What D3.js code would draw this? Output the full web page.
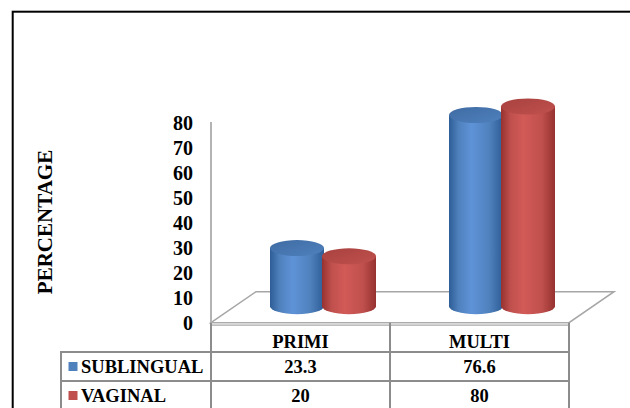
<!DOCTYPE html>
<html>
<head>
<meta charset="utf-8">
<script src="https://cdn.jsdelivr.net/npm/d3@7"></script>
<style>
  html, body { margin: 0; padding: 0; background: #fff; }
  svg { display: block; }
  text { font-family: "Liberation Serif", "Times New Roman", serif; font-weight: bold; fill: #000; }
</style>
</head>
<body>
<svg id="chart" width="630" height="408"></svg>
<script>
// Data
const categories = ["PRIMI", "MULTI"];
const seriesNames = ["SUBLINGUAL", "VAGINAL"];
const sublingual = [23.3, 76.6];
const vaginal = [20, 80];
const yTicks = [0, 10, 20, 30, 40, 50, 60, 70, 80];

const seriesValues = [sublingual, vaginal];
const seriesColors = [
  { base: "#4f81bd", light: "#5f93d8", dark: "#2e5d96", top: "#3f6ba3" },
  { base: "#c0504d", light: "#d25a57", dark: "#963230", top: "#a8423f" }
];

const svg = d3.select("#chart");

// Outer frame
svg.append("rect")
  .attr("x", 12.7).attr("y", 11.7)
  .attr("width", 640).attr("height", 420)
  .attr("fill", "none").attr("stroke", "#000").attr("stroke-width", 2);

// Scales (front plane of the 3D box)
const y = d3.scaleLinear().domain([0, 80]).range([322.7, 123]);
const x = d3.scaleBand().domain(categories).range([211, 569]).padding(0);
const depthX = 45, depthY = 31;          // full floor depth
const cylDX = depthX / 2, cylDY = 16.5;  // cylinders sit mid-depth
const seriesOffset = d3.scaleBand().domain(d3.range(seriesNames.length)).range([-52, 52]);
const rx = 27, ry = 8;

// Gradients for cylinder bodies
const defs = svg.append("defs");
seriesColors.forEach((c, i) => {
  const g = defs.append("linearGradient").attr("id", "body" + i)
    .attr("x1", "0%").attr("x2", "100%").attr("y1", "0%").attr("y2", "0%");
  g.append("stop").attr("offset", "0%").attr("stop-color", c.dark);
  g.append("stop").attr("offset", "18%").attr("stop-color", c.base);
  g.append("stop").attr("offset", "42%").attr("stop-color", c.light);
  g.append("stop").attr("offset", "75%").attr("stop-color", c.base);
  g.append("stop").attr("offset", "100%").attr("stop-color", c.dark);
  const t = defs.append("linearGradient").attr("id", "top" + i)
    .attr("x1", "0%").attr("x2", "100%").attr("y1", "0%").attr("y2", "100%");
  t.append("stop").attr("offset", "0%").attr("stop-color", c.top);
  t.append("stop").attr("offset", "100%").attr("stop-color", c.base);
});

// Floor slab
const x0 = x.range()[0], x1 = x.range()[1], y0 = y(0);
const floor = svg.append("g");
floor.append("path")
  .attr("d", `M${x0},${y0} L${x0 + depthX},${y0 - depthY} L${x1 + depthX},${y0 - depthY} L${x1},${y0} Z`)
  .attr("fill", "#fff").attr("stroke", "#a6a6a6").attr("stroke-width", 1.5);
floor.append("rect")
  .attr("x", x0).attr("y", y0).attr("width", x1 - x0).attr("height", 2.5)
  .attr("fill", "#e6e6e6").attr("stroke", "#a6a6a6").attr("stroke-width", 1);

// Vertical axis line
svg.append("line")
  .attr("x1", x0).attr("x2", x0).attr("y1", y(80) - 1).attr("y2", 408)
  .attr("stroke", "#b3b3b3").attr("stroke-width", 2);

// Cylinders
const bars = [];
categories.forEach((cat, ci) => {
  seriesValues.forEach((vals, si) => {
    bars.push({ cat, si, value: vals[ci] });
  });
});
const cyl = svg.append("g").selectAll("g").data(bars).join("g");
cyl.each(function (d) {
  const g = d3.select(this);
  const cx = x(d.cat) + x.bandwidth() / 2 + cylDX + seriesOffset(d.si) + seriesOffset.bandwidth() / 2;
  const yb = y(0) - cylDY;
  const yt = y(d.value) - cylDY;
  g.append("path")
    .attr("d", `M${cx - rx},${yt} L${cx - rx},${yb} A${rx},${ry} 0 0 0 ${cx + rx},${yb} L${cx + rx},${yt} Z`)
    .attr("fill", `url(#body${d.si})`);
  g.append("ellipse")
    .attr("cx", cx).attr("cy", yt).attr("rx", rx).attr("ry", ry)
    .attr("fill", `url(#top${d.si})`);
});

// Y tick labels
svg.append("g").selectAll("text").data(yTicks).join("text")
  .attr("x", 193).attr("y", d => y(d))
  .attr("text-anchor", "end").attr("dominant-baseline", "central")
  .attr("font-size", 20)
  .text(d => d);

// Y axis title
svg.append("text")
  .attr("transform", "translate(45,222) rotate(-90)")
  .attr("text-anchor", "middle").attr("dominant-baseline", "central")
  .attr("font-size", 21)
  .text("PERCENTAGE");

// Data table
const tableLeft = 61, rowTop = [y0, 352, 381], rowBottom = 412;
const gridColor = "#8c8c8c";
const table = svg.append("g");
// horizontal rules
[352, 381].forEach(yy => table.append("line")
  .attr("x1", tableLeft).attr("x2", x1).attr("y1", yy).attr("y2", yy)
  .attr("stroke", gridColor).attr("stroke-width", 2));
// vertical rules
table.append("line").attr("x1", tableLeft).attr("x2", tableLeft).attr("y1", 351).attr("y2", rowBottom)
  .attr("stroke", gridColor).attr("stroke-width", 2);
table.append("line").attr("x1", x0).attr("x2", x0).attr("y1", y0).attr("y2", rowBottom)
  .attr("stroke", gridColor).attr("stroke-width", 2);
categories.forEach(c => {
  const xr = x(c) + x.bandwidth();
  table.append("line").attr("x1", xr).attr("x2", xr).attr("y1", y0).attr("y2", rowBottom)
    .attr("stroke", gridColor).attr("stroke-width", 2);
});

// header
table.selectAll("text.hdr").data(categories).join("text").attr("class", "hdr")
  .attr("x", d => x(d) + x.bandwidth() / 2).attr("y", 341.7)
  .attr("text-anchor", "middle").attr("dominant-baseline", "central")
  .attr("font-size", 18.5).text(d => d);

// rows
const rowY = [367, 396];
seriesNames.forEach((name, si) => {
  table.append("rect")
    .attr("x", 68.5).attr("y", rowY[si] - 5).attr("width", 9).attr("height", 9)
    .attr("fill", seriesColors[si].base);
  table.append("text")
    .attr("x", 81).attr("y", rowY[si])
    .attr("dominant-baseline", "central").attr("font-size", 18.5)
    .text(name);
  table.selectAll(null).data(categories).join("text")
    .attr("x", d => x(d) + x.bandwidth() / 2).attr("y", rowY[si])
    .attr("text-anchor", "middle").attr("dominant-baseline", "central")
    .attr("font-size", 18.5)
    .text((d, ci) => seriesValues[si][ci]);
});
</script>
</body>
</html>
